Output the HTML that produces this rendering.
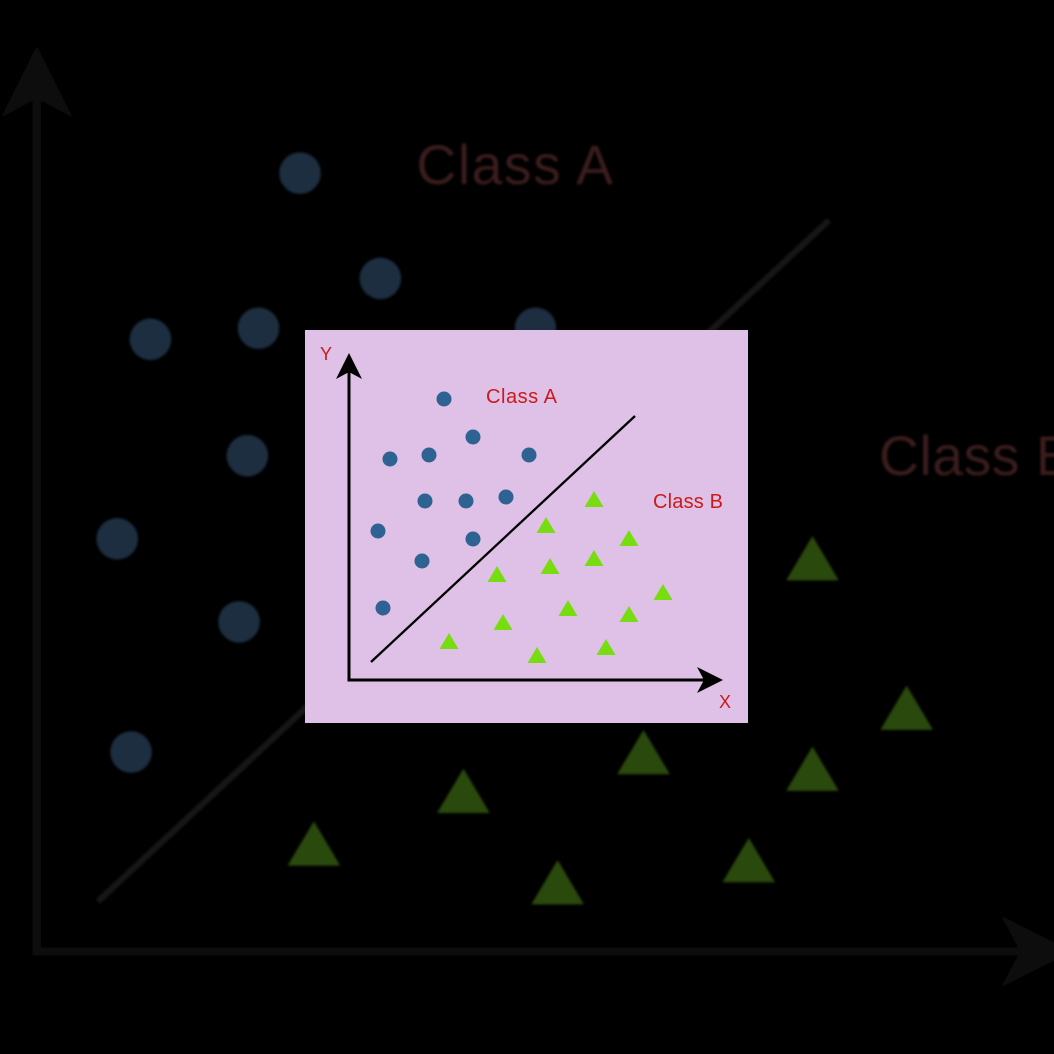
<!DOCTYPE html>
<html><head><meta charset="utf-8"><style>
html,body{margin:0;padding:0;background:#000;}
svg{display:block}
</style></head><body>
<svg id="root" width="1054" height="1054" viewBox="0 0 1054 1054">
<defs>
<filter id="blur"><feGaussianBlur stdDeviation="0.5"/></filter>
</defs>
<rect x="0" y="0" width="1054" height="1054" fill="#000"/>
<g id="bg" transform="translate(-85,-18) scale(2.77)" filter="url(#blur)"></g>
<rect x="305" y="330" width="443" height="393" fill="#dfc0e6"/>
<g id="fg" transform="translate(305,330)"></g>
</svg>
<script>
// Data (units: distance from axis origin)
const classAX = [95,124,41,80,180,76,117,157,29,124,73,34];
const classAY = [281,243,221,225,225,179,179,183,149,141,119,72];
const classBX = [245,197,280,245,201,148,314,219,154,280,100,257,188];
const classBY = [180,154,141,121,113,105,87,71,57,65,38,32,24];
const boundaryX = [22,286];
const boundaryY = [18,264];

const NS = 'http://www.w3.org/2000/svg';
const ox = 44, oy = 350;
function sx(v){ return ox + v; }
function sy(v){ return oy - v; }
function mk(tag, attrs, parent){
  const e = document.createElementNS(NS, tag);
  for (const k in attrs) e.setAttribute(k, attrs[k]);
  parent.appendChild(e);
  return e;
}
function draw(g, c){
  let e;
  e = mk('line',{x1:sx(0),y1:sy(0),x2:sx(0),y2:40,stroke:c.axis,'stroke-width':3},g);
  
  
  e = mk('polygon',{points:`${sx(0)},${23} ${sx(0)-13},${49} ${sx(0)},${42} ${sx(0)+13},${49}`,fill:c.axis},g);
  
  
  e = mk('line',{x1:sx(0)-1.5,y1:sy(0),x2:400,y2:sy(0),stroke:c.axis,'stroke-width':3},g);
  
  
  e = mk('polygon',{points:`${418},${sy(0)} ${392},${sy(0)-13} ${399},${sy(0)} ${392},${sy(0)+13}`,fill:c.axis},g);
  
  
  e = mk('line',{x1:sx(boundaryX[0]),y1:sy(boundaryY[0]),x2:sx(boundaryX[1]),y2:sy(boundaryY[1]),stroke:c.line,'stroke-width':2.3},g);
  
  
  for (let i=0;i<classAX.length;i++){
    e = mk('circle',{cx:sx(classAX[i]),cy:sy(classAY[i]),r:7.5,fill:c.a},g);
    
    
  }
  for (let i=0;i<classBX.length;i++){
    const x=sx(classBX[i]), y=sy(classBY[i]);
    e = mk('polygon',{points:`${x},${y-9} ${x-9.5},${y+7} ${x+9.5},${y+7}`,fill:c.b},g);
    
    
  }
  const font = '"Liberation Sans", sans-serif';
  e = mk('text',{x:181,y:73,fill:c.text,'font-family':font,'font-size':20,textLength:71},g); e.textContent='Class A';
  
  
  e = mk('text',{x:348,y:178,fill:c.text,'font-family':font,'font-size':20,textLength:70},g); e.textContent='Class B';
  
  
  e = mk('text',{x:15,y:30,fill:c.text,'font-family':font,'font-size':18},g); e.textContent='Y';
  
  
  e = mk('text',{x:414,y:378,fill:c.text,'font-family':font,'font-size':18},g); e.textContent='X';
  
  
}
draw(document.getElementById('bg'), {axis:'#0d0d0d', line:'#181818', a:'#1a2d40', b:'#2a4a0c', text:'#3a1c1c'});
draw(document.getElementById('fg'), {axis:'#000', line:'#000', a:'#2d6292', b:'#77dd11', text:'#cc1a1a'});
</script>
</body></html>
